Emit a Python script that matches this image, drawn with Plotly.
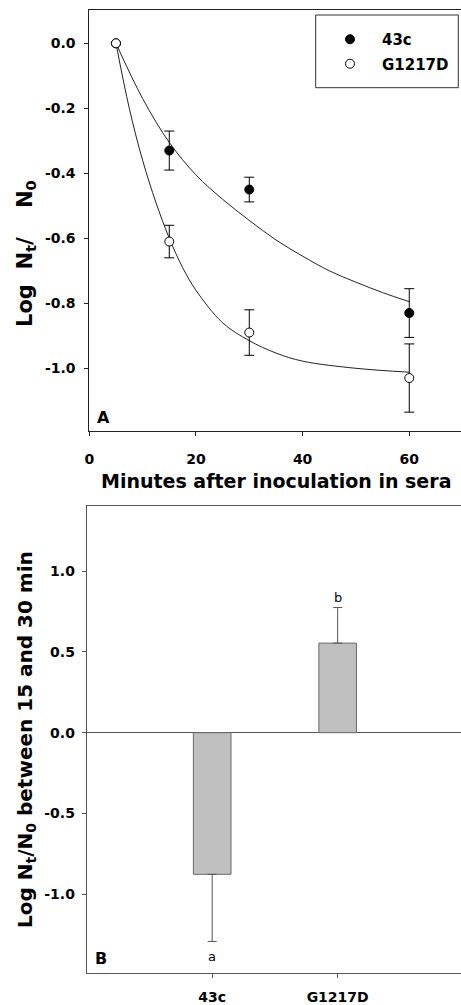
import plotly.graph_objects as go

# ---------------- data ----------------
time_min = [5, 15, 30, 60]
log_43c = [0.0, -0.33, -0.45, -0.83]
err_43c = [0.0, 0.06, 0.038, 0.075]
log_g1217d = [0.0, -0.61, -0.89, -1.03]
err_g1217d = [0.0, 0.05, 0.07, 0.105]

# fitted curves
fit_x_43c = [5, 10, 15, 20, 25, 30, 35, 40, 45, 50, 55, 60]
fit_y_43c = [0.0, -0.17, -0.305, -0.405, -0.48, -0.545, -0.605, -0.655, -0.70, -0.735, -0.767, -0.795]
fit_x_g1217d = [5, 7.5, 10, 12.5, 15, 17.5, 20, 25, 30, 35, 40, 50, 60]
fit_y_g1217d = [0.0, -0.2, -0.36, -0.49, -0.60, -0.69, -0.76, -0.86, -0.915, -0.953, -0.978, -1.0, -1.012]

strains = ["43c", "G1217D"]
change_15_30 = [-0.876, 0.554]
change_err = [0.415, 0.22]
sig_letters = ["a", "b"]

xticks_a = [0, 20, 40, 60]
yticks_a = [0.0, -0.2, -0.4, -0.6, -0.8, -1.0]
yticks_a_text = ["0.0", "-0.2", "-0.4", "-0.6", "-0.8", "-1.0"]
yticks_b = [1.0, 0.5, 0.0, -0.5, -1.0]
yticks_b_text = ["1.0", "0.5", "0.0", "-0.5", "-1.0"]

# ---------------- figure ----------------
W, H = 461, 1005
FONT = "DejaVu Sans"
px_x = lambda p: p / W
px_y = lambda p: 1 - p / H

fig = go.Figure()

# fitted curves (panel A)
for fx, fy in [(fit_x_43c, fit_y_43c), (fit_x_g1217d, fit_y_g1217d)]:
    fig.add_trace(go.Scatter(x=fx, y=fy, mode="lines",
                             line=dict(color="#222", width=1, shape="spline", smoothing=1.0),
                             showlegend=False, hoverinfo="skip", xaxis="x", yaxis="y"))

# data points (panel A)
fig.add_trace(go.Scatter(x=time_min, y=log_43c, mode="markers", name="43c", legendgroup="a",
                         marker=dict(symbol="circle", size=9, color="black", line=dict(color="black", width=1)),
                         error_y=dict(type="data", array=err_43c, color="black", thickness=1, width=5),
                         xaxis="x", yaxis="y"))
fig.add_trace(go.Scatter(x=time_min, y=log_g1217d, mode="markers", name="G1217D", legendgroup="b",
                         marker=dict(symbol="circle", size=9, color="white", line=dict(color="black", width=1)),
                         error_y=dict(type="data", array=err_g1217d, color="black", thickness=1, width=5),
                         xaxis="x", yaxis="y"))

# bars (panel B)
err_plus = [e if v >= 0 else 0 for v, e in zip(change_15_30, change_err)]
err_minus = [e if v < 0 else 0 for v, e in zip(change_15_30, change_err)]
fig.add_trace(go.Bar(x=strains, y=change_15_30, width=0.3, showlegend=False,
                     marker=dict(color="#c0c0c0", line=dict(color="#6a6a6a", width=1)),
                     error_y=dict(type="data", symmetric=False, array=err_plus, arrayminus=err_minus,
                                  color="#555", thickness=1, width=4.5),
                     xaxis="x2", yaxis="y2"))

tickfont = dict(family=FONT, size=14, color="black", weight="bold")

fig.update_layout(
    width=W, height=H, autosize=False,
    margin=dict(l=0, r=0, t=0, b=0),
    paper_bgcolor="white", plot_bgcolor="white",
    font=dict(family=FONT, color="black"),
    xaxis=dict(domain=[px_x(89.3), 1], range=[0, 69.7], anchor="y",
               tickvals=xticks_a, ticks="outside", ticklen=4, tickcolor="#222",
               showline=True, linecolor="#222", linewidth=1, mirror=True,
               showgrid=False, zeroline=False, tickfont=tickfont, ticklabelstandoff=12, automargin=False),
    yaxis=dict(domain=[px_y(430.5), px_y(10)], range=[-1.1914, 0.1025], anchor="x",
               tickvals=yticks_a, ticktext=yticks_a_text, ticks="outside", ticklen=4, tickcolor="#222",
               showline=True, linecolor="#222", linewidth=1, mirror=False,
               showgrid=False, zeroline=False, tickfont=tickfont, ticklabelstandoff=6, automargin=False),
    xaxis2=dict(domain=[px_x(86.7), 1], range=[-1, 1.983], anchor="y2", type="category",
                ticks="outside", ticklen=4, tickcolor="#555",
                showline=True, linecolor="#555", linewidth=1, mirror=True,
                showgrid=False, zeroline=False, tickfont=tickfont, ticklabelstandoff=7, automargin=False),
    yaxis2=dict(domain=[px_y(973.3), px_y(506)], range=[-1.488, 1.402], anchor="x2",
                tickvals=yticks_b, ticktext=yticks_b_text, ticks="outside", ticklen=4, tickcolor="#555",
                showline=True, linecolor="#555", linewidth=1, mirror=False,
                showgrid=False, zeroline=True, zerolinecolor="#555", zerolinewidth=1,
                tickfont=tickfont, ticklabelstandoff=4, automargin=False),
    legend=dict(x=px_x(318), y=px_y(23), xanchor="left", yanchor="top",
                bgcolor="rgba(0,0,0,0)", borderwidth=0, itemwidth=54,
                tracegroupgap=2, traceorder="grouped",
                font=dict(family=FONT, size=15, color="black", weight="bold")),
    showlegend=True,
)

# legend frame
fig.add_shape(type="rect", xref="paper", yref="paper",
              x0=px_x(315.7), x1=px_x(458.3), y0=px_y(87.7), y1=px_y(15),
              line=dict(color="#333", width=1), fillcolor="rgba(0,0,0,0)", layer="above")

NB = "\u00a0"
ann = []
# axis titles
ann.append(dict(text="Minutes after inoculation in sera", x=px_x(275.8), y=px_y(481), xref="paper", yref="paper",
                showarrow=False, xanchor="center", yanchor="middle",
                font=dict(family=FONT, size=19, color="black", weight="bold")))
ann.append(dict(text=f"Log{NB}{NB}N<sub>t</sub>/{NB}{NB}{NB}{NB}N<sub>0</sub>", x=px_x(26), y=px_y(254),
                xref="paper", yref="paper",
                showarrow=False, xanchor="center", yanchor="middle", textangle=-90,
                font=dict(family=FONT, size=21, color="black", weight="bold")))
ann.append(dict(text="Log N<sub>t</sub>/N<sub>0</sub> between 15 and 30 min", x=px_x(26), y=px_y(740),
                xref="paper", yref="paper", showarrow=False, xanchor="center", yanchor="middle", textangle=-90,
                font=dict(family=FONT, size=20, color="black", weight="bold")))
# panel letters
ann.append(dict(text="A", x=px_x(103.3), y=px_y(417.5), xref="paper", yref="paper", showarrow=False,
                xanchor="center", yanchor="middle", font=dict(family=FONT, size=16, color="black", weight="bold")))
ann.append(dict(text="B", x=px_x(100.8), y=px_y(958.3), xref="paper", yref="paper", showarrow=False,
                xanchor="center", yanchor="middle", font=dict(family=FONT, size=16, color="black", weight="bold")))
# significance letters
for s, v, e, letter in zip(strains, change_15_30, change_err, sig_letters):
    end = v + e if v >= 0 else v - e
    ann.append(dict(text=letter, x=s, y=end, xref="x2", yref="y2", showarrow=False,
                    xanchor="center", yanchor="middle", yshift=10 if v >= 0 else -15,
                    font=dict(family=FONT, size=13, color="black")))
fig.update_layout(annotations=ann)

fig.write_html("out.html", config={"displayModeBar": False},
               post_script="document.body.style.margin='0';document.body.style.overflow='hidden';")
